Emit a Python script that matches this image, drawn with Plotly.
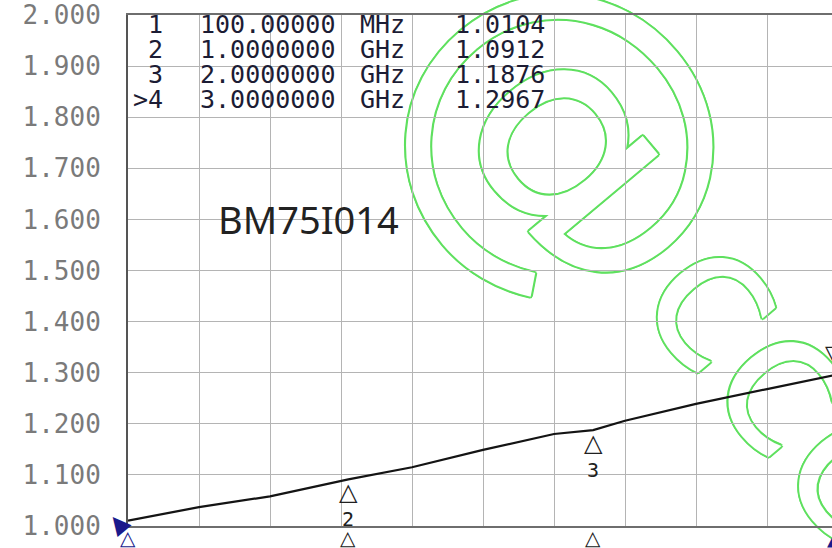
import plotly.graph_objects as go

# ---- data (VSWR trace) ----
freq_ghz = [0.1, 0.39, 0.68, 0.97, 1.0, 1.26, 1.55, 1.84, 2.0, 2.13, 2.42, 2.71, 3.0]
vswr = [1.0104, 1.037, 1.058, 1.089, 1.0912, 1.115, 1.149, 1.18, 1.1876, 1.206, 1.239, 1.268, 1.2967]

marker_ids = ["1", "2", "3", ">4"]
marker_labels = ["1", "2", "3", "4"]
marker_freq_ghz = [0.1, 1.0, 2.0, 3.0]
marker_freq_text = ["100.00000", "1.0000000", "2.0000000", "3.0000000"]
marker_unit = ["MHz", "GHz", "GHz", "GHz"]
marker_vswr = [1.0104, 1.0912, 1.1876, 1.2967]

y_ticks = [1.0, 1.1, 1.2, 1.3, 1.4, 1.5, 1.6, 1.7, 1.8, 1.9, 2.0]
part_label = "BM75I014"
watermark_at = "@"
watermark_c = "ccc"

W, H = 832, 548
ML, MT, MB = 128, 11, 22
PW, PH = W - ML, H - MT - MB
X_RANGE = [0.1, 0.1 + PW / 71.0 * 0.29]

MONO = "DejaVu Sans Mono"
INK = "#1c1c34"
NAVY = "#1a1a8c"
GREEN = "#5fe05f"


def px_x(px):
    return (px - ML) / PW


def px_y(py):
    return 1 - (py - MT) / PH


def freq_to_paper(f):
    return (f - X_RANGE[0]) / (X_RANGE[1] - X_RANGE[0])


fig = go.Figure()
fig.add_trace(go.Scatter(
    x=freq_ghz, y=vswr, mode="lines",
    line=dict(color="#141414", width=2.2),
    hoverinfo="skip", showlegend=False,
))

ann = []
# marker table
row_y = [20, 45, 70, 95]
for i in range(4):
    yshift = -(row_y[i] - MT)
    common = dict(xref="paper", yref="paper", x=0, y=1, showarrow=False,
                  yanchor="middle", yshift=yshift,
                  font=dict(family=MONO, size=25, color=INK))
    ann.append(dict(text=marker_ids[i], xanchor="right", xshift=165 - ML, **common))
    ann.append(dict(text=marker_freq_text[i], xanchor="left", xshift=198 - ML, **common))
    ann.append(dict(text=marker_unit[i], xanchor="left", xshift=358 - ML, **common))
    ann.append(dict(text=f"{marker_vswr[i]:.4f}", xanchor="left", xshift=453 - ML, **common))

# part label
ann.append(dict(text=part_label, xref="paper", yref="paper", x=0, y=1,
                xanchor="left", yanchor="middle", xshift=216 - ML, yshift=-(215 - MT),
                showarrow=False, font=dict(family="Noto Sans", size=38, color="#222222")))

# markers on the trace (2 and 3 hang below the trace)
for i in (1, 2):
    ann.append(dict(text="△", x=marker_freq_ghz[i], y=marker_vswr[i], xref="x", yref="y",
                    xanchor="center", yanchor="top", yshift=3, showarrow=False,
                    font=dict(family="DejaVu Sans", size=24, color="#202020")))
    ann.append(dict(text=marker_labels[i], x=marker_freq_ghz[i], y=marker_vswr[i], xref="x", yref="y",
                    xanchor="center", yanchor="top", yshift=-26, showarrow=False,
                    font=dict(family=MONO, size=20, color="#202020")))
# marker 1 (start): filled navy pointer
ann.append(dict(text="▲", x=marker_freq_ghz[0], y=marker_vswr[0], xref="x", yref="y",
                textangle=-40, xshift=-11, yshift=-2, showarrow=False,
                font=dict(family="DejaVu Sans", size=24, color=NAVY)))
# marker 4 (active) sits at the right edge, just past the visible span
ann.append(dict(text="▽", x=freq_to_paper(marker_freq_ghz[3]), xref="paper",
                y=marker_vswr[3], yref="y", xanchor="center",
                yanchor="bottom", yshift=4, xshift=-4, showarrow=False,
                font=dict(family="DejaVu Sans", size=24, color="#202020")))
# stimulus triangles below the axis
for i in range(4):
    glyph = "▲" if i == 3 else "△"
    color = NAVY if i in (0, 3) else "#202020"
    ann.append(dict(text=glyph, x=freq_to_paper(marker_freq_ghz[i]), xref="paper",
                    y=0, yref="paper", xanchor="center", xshift=-3 if i == 3 else 0,
                    yanchor="top", yshift=2, showarrow=False,
                    font=dict(family="DejaVu Sans", size=20, color=color)))

shadow = ", ".join(f"{dx}px {dy}px {GREEN}" for dx, dy in
                   [(2, 0), (-2, 0), (0, 2), (0, -2), (1.5, 1.5), (-1.5, -1.5), (1.5, -1.5), (-1.5, 1.5)])


def wm_shape(text, cx, cy, size, angle):
    return dict(
        type="rect", xref="paper", yref="paper",
        x0=px_x(cx) - 0.02, x1=px_x(cx) + 0.02, y0=px_y(cy) - 0.02, y1=px_y(cy) + 0.02,
        line=dict(width=0), fillcolor="rgba(0,0,0,0)", layer="between",
        label=dict(text=text, textangle=angle, textposition="middle center",
                   font=dict(family="DejaVu Sans", size=size, color="white", shadow=shadow)),
    )


fig.update_layout(
    width=W, height=H,
    margin=dict(l=ML, r=0, t=MT, b=MB, pad=0),
    paper_bgcolor="white", plot_bgcolor="white",
    showlegend=False,
    annotations=ann,
    shapes=[wm_shape(watermark_at, 598, 108, 345, 50),
            wm_shape(watermark_c, 802, 372, 200, 50)],
)

fig.update_xaxes(
    range=X_RANGE,
    tick0=0.1, dtick=0.29, showticklabels=False, ticks="",
    showgrid=True, gridcolor="#b4b4b4", gridwidth=1.3,
    showline=True, linecolor="#6e6e6e", linewidth=2, mirror=True,
    zeroline=False, fixedrange=True,
)
fig.update_yaxes(
    range=[1.0, 2.0],
    tickvals=y_ticks, ticktext=[f"{v:.3f}" for v in y_ticks],
    ticks="", ticklabelstandoff=20, ticklabeloverflow="allow",
    tickfont=dict(family=MONO, size=26, color="#7a7a7a"),
    showgrid=True, gridcolor="#b4b4b4", gridwidth=1.3,
    showline=True, linecolor="#555555", linewidth=2,
    zeroline=False, fixedrange=True,
)

fig.write_html("out.html", config={"displayModeBar": False},
               post_script="document.body.style.margin='0';document.body.style.overflow='hidden';")
